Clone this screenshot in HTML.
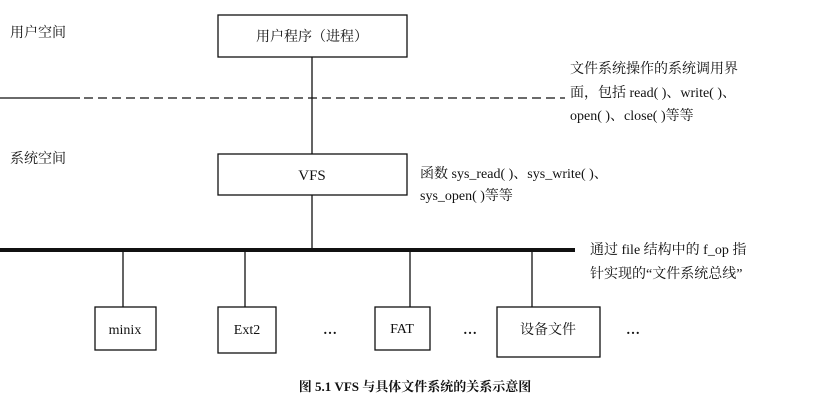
<!DOCTYPE html>
<html><head><meta charset="utf-8"><style>
body{margin:0;background:#fff;}
svg text{font-family:"Liberation Serif","Noto Serif CJK SC","Noto Sans CJK SC",serif;fill:#111;}
</style></head><body>
<svg width="830" height="408" viewBox="0 0 830 408" xmlns="http://www.w3.org/2000/svg">
<g fill="none" stroke="#111" stroke-width="1.3">
<rect x="218" y="15" width="189" height="42"/>
<rect x="218" y="154" width="189" height="41"/>
<line x1="312" y1="57" x2="312" y2="154"/>
<line x1="312" y1="195" x2="312" y2="250"/>
<line x1="0" y1="98" x2="80" y2="98"/>
<line x1="84" y1="98" x2="565" y2="98" stroke-dasharray="9,5"/>
<line x1="123" y1="250" x2="123" y2="307"/>
<line x1="245" y1="250" x2="245" y2="307"/>
<line x1="410" y1="250" x2="410" y2="307"/>
<line x1="532" y1="250" x2="532" y2="307"/>
<rect x="95" y="307" width="61" height="43"/>
<rect x="218" y="307" width="58" height="46"/>
<rect x="375" y="307" width="55" height="43"/>
<rect x="497" y="307" width="103" height="50"/>
</g>
<line x1="0" y1="250" x2="575" y2="250" stroke="#111" stroke-width="4"/>
<g font-size="14">
<text x="10" y="37" font-family="Noto Sans CJK SC,sans-serif">用户空间</text>
<text x="10" y="163" font-family="Noto Sans CJK SC,sans-serif">系统空间</text>
<text x="312" y="41" text-anchor="middle" font-family="Noto Sans CJK SC,sans-serif">用户程序（进程）</text>
<text x="312" y="180" text-anchor="middle" font-size="15">VFS</text>
<text x="570" y="73">文件系统操作的系统调用界</text>
<text x="570" y="97">面，包括 read( )、write( )、</text>
<text x="570" y="120">open( )、close( )等等</text>
<text x="420" y="178">函数 sys_read( )、sys_write( )、</text>
<text x="420" y="200">sys_open( )等等</text>
<text x="590" y="254">通过 file 结构中的 f_op 指</text>
<text x="590" y="278">针实现的“文件系统总线”</text>
<text x="125" y="334" text-anchor="middle">minix</text>
<text x="247" y="334" text-anchor="middle">Ext2</text>
<text x="402" y="333" text-anchor="middle">FAT</text>
<text x="548" y="334" text-anchor="middle">设备文件</text>
<text x="330" y="334" text-anchor="middle" font-weight="bold">…</text>
<text x="470" y="334" text-anchor="middle" font-weight="bold">…</text>
<text x="633" y="334" text-anchor="middle" font-weight="bold">…</text>
<text x="415" y="391" text-anchor="middle" font-size="13" font-weight="bold" font-family="Noto Sans CJK SC,sans-serif">图 5.1  VFS 与具体文件系统的关系示意图</text>
</g>
</svg>
</body></html>
